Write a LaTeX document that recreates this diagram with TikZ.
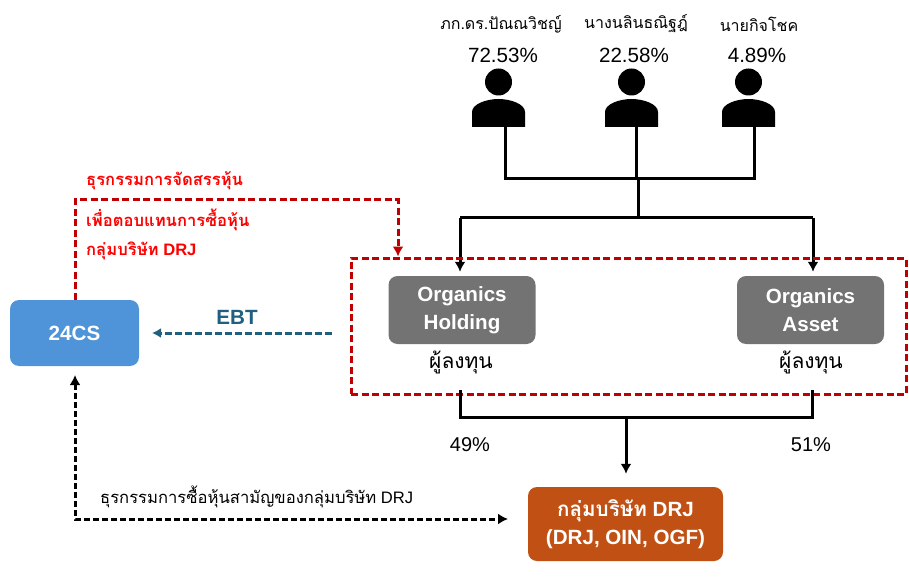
\documentclass[tikz,border=0pt]{standalone}
\usepackage{fontspec}
\setmainfont{Liberation Sans}
\newfontfamily\thaifont[Script=Thai]{Loma}
\usetikzlibrary{arrows.meta}
\definecolor{redbox}{HTML}{C00000}
\definecolor{redtxt}{HTML}{FF0000}
\definecolor{ebt}{HTML}{1F6080}
\definecolor{grayb}{HTML}{737373}
\definecolor{blueb}{HTML}{4F94D8}
\definecolor{orangeb}{HTML}{C05014}
\newcommand{\fs}[1]{\fontsize{#1}{#1}\selectfont}
\tikzset{
  x=1pt,y=-1pt,
  solidline/.style={line width=3pt,black},
  arrowline/.style={solidline,-{Latex[length=10pt,width=11pt]}},
  reddash/.style={line width=3pt,redbox,dash pattern=on 7pt off 3.5pt},
  blackdash/.style={line width=3pt,black,dash pattern=on 6pt off 3pt},
  company/.style={rounded corners=9pt,inner sep=0pt,align=center,text=white,font=\bfseries\fs{20.6}},
  lab/.style={inner sep=0pt,text=black},
}
\begin{document}
\begin{tikzpicture}
\useasboundingbox (0,0) rectangle (909,577);
% persons
\foreach \n/\x in {a/498.5,b/631.5,c/748.5}{
  \fill (\x,82) circle (13.5);
  \fill (\x-26.5,127) -- (\x-26.5,112) .. controls (\x-26.5,104) and (\x-12,99) .. (\x,99) .. controls (\x+12,99) and (\x+26.5,104) .. (\x+26.5,112) -- (\x+26.5,127) -- cycle;
}
\node[lab,font=\fs{16}\thaifont] (na) at (501,24) {ภก.ดร.ปัณณวิชญ์};
\node[lab,font=\fs{16}\thaifont] (nb) at (636,24) {นางนลินธณิฐฎ์};
\node[lab,font=\fs{16}\thaifont] (nc) at (759,24) {นายกิจโชค};
\node[lab,font=\fs{20.6}] (pa) at (503,55) {72.53\%};
\node[lab,font=\fs{20.6}] (pb) at (634,55) {22.58\%};
\node[lab,font=\fs{20.6}] (pc) at (757,55) {4.89\%};
\coordinate (ba) at (505,126);
\coordinate (bb) at (636,126);
\coordinate (bc) at (754,126);
\coordinate (ja) at (505,179);
\coordinate (jc) at (754,179);
\coordinate (jm) at (638,179);
\coordinate (js) at (638,218);
\coordinate (jl) at (460,218);
\coordinate (jr) at (813,218);
\draw[solidline,line join=miter] (ba) -- (ja) -- (jc) -- (bc);
\draw[solidline] (bb) -- (bb|-ja);
\draw[solidline] (jm) -- (js);
% boxes
\node[company,fill=grayb,minimum width=147pt,minimum height=68pt] (hold) at (462,310) {Organics\\[7pt]Holding};
\node[company,fill=grayb,minimum width=147pt,minimum height=68pt] (asset) at (810.5,310) {Organics\\[7pt]Asset};
\node[company,fill=blueb,minimum width=129pt,minimum height=66pt] (cs) at (74.5,333) {24CS};
\node[company,fill=orangeb,minimum width=195pt,minimum height=74pt] (drj) at (625.5,524) {{\thaifont กลุ่มบริษัท} DRJ\\[7pt](DRJ, OIN, OGF)};
\draw[solidline] (jl) -- (jr);
\draw[arrowline] (jl) -- ([yshift=4pt]jl |- hold.north);
\draw[arrowline] (jr) -- ([yshift=4pt]jr |- asset.north);
\node[lab,font=\fs{21}\thaifont] (inva) at (461,362) {ผู้ลงทุน};
\node[lab,font=\fs{21}\thaifont] (invb) at (811,362) {ผู้ลงทุน};
% red frame
\node[draw=redbox,line width=3pt,dash pattern=on 7pt off 3.5pt,minimum width=555pt,minimum height=136pt,inner sep=0pt] (frame) at (628.5,326) {};
% lower join
\coordinate (la) at (460,390);
\coordinate (lb) at (812,390);
\coordinate (lja) at (460,417);
\coordinate (ljb) at (812,417);
\coordinate (ljm) at (626,417);
\draw[solidline] (la) -- (lja) -- (ljb) -- (lb);
\draw[arrowline] (ljm) -- ([yshift=13pt]ljm |- drj.north);
\node[lab,font=\fs{20}] (p49) at (470,445) {49\%};
\node[lab,font=\fs{20}] (p51) at (811,445) {51\%};
% red arrow
\coordinate (r1) at (75,200);
\coordinate (r2) at (398,200);
\draw[reddash,-{Latex[length=10pt,width=11pt]},line join=miter] (cs.north -| r1) -- (r1) -- (r2) -- (r2 |- frame.north);
\node[lab,anchor=west,text=redtxt,font=\bfseries\fs{16.6}\thaifont] (t1) at (86,181) {ธุรกรรมการจัดสรรหุ้น};
\node[lab,anchor=west,text=redtxt,font=\bfseries\fs{16.6}\thaifont] (t2) at (86,220) {เพื่อตอบแทนการซื้อหุ้น};
\node[lab,anchor=west,text=redtxt,font=\bfseries\fs{16.6}] (t3) at (86,251) {{\thaifont กลุ่มบริษัท} DRJ};
% EBT
\coordinate (e1) at (332,333);
\coordinate (e2) at (152,333);
\draw[line width=3pt,ebt,dash pattern=on 7pt off 3pt,-{Latex[length=9pt,width=10pt]}] (e1) -- (e2);
\node[lab,text=ebt,font=\bfseries\fs{20.6}] (ebtl) at (237,317) {EBT};
% black dashed
\coordinate (k0) at (75,375);
\coordinate (k1) at (75,519);
\coordinate (k2) at (508,519);
\draw[blackdash,{Latex[length=10pt,width=11pt]}-{Latex[length=10pt,width=11pt]},line join=miter] (k0) -- (k1) -- (k2);
\node[lab,anchor=west,font=\fs{16.6}] (t4) at (100,497) {{\thaifont ธุรกรรมการซื้อหุ้นสามัญของกลุ่มบริษัท} DRJ};
\end{tikzpicture}
\end{document}
